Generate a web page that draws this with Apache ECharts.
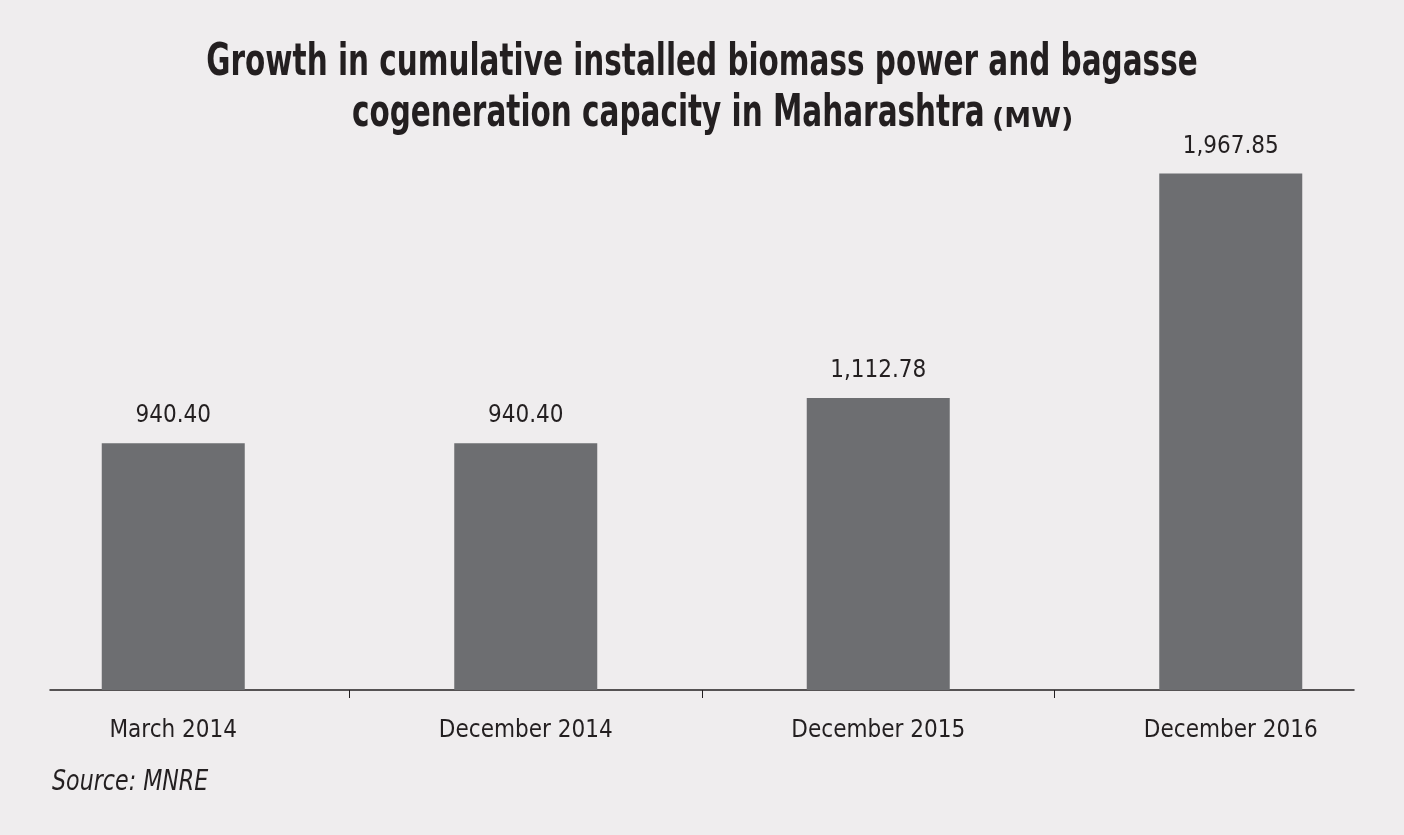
<!DOCTYPE html>
<html>
<head>
<meta charset="utf-8">
<script src="https://cdn.jsdelivr.net/npm/echarts@6/dist/echarts.min.js"></script>
<style>
html,body{margin:0;padding:0;background:#efedee;}
#c{width:1404px;height:835px;}
</style>
</head>
<body>
<div id="c"></div>
<script>
const categories = ['March 2014', 'December 2014', 'December 2015', 'December 2016'];
const capacityMW = [940.40, 940.40, 1112.78, 1967.85];
const titleLine1 = 'Growth in cumulative installed biomass power and bagasse';
const titleLine2 = 'cogeneration capacity in Maharashtra';
const titleUnit = '(MW)';
const sourceText = 'Source: MNRE';

const FONT = "'DejaVu Sans Condensed', 'Liberation Sans Narrow', sans-serif";
const INK = '#231f20';
const chart = echarts.init(document.getElementById('c'));
chart.setOption({
  backgroundColor: '#efedee',
  animation: false,
  graphic: [{
    type: 'text',
    x: 702, y: 86,
    scaleX: 0.745,
    style: {
      text: titleLine1,
      align: 'center', verticalAlign: 'bottom',
      fontFamily: FONT, fontWeight: 'bold', fontSize: 44, fill: INK
    }
  }, {
    type: 'text',
    x: 352, y: 137,
    scaleX: 0.745,
    style: {
      text: titleLine2,
      align: 'left', verticalAlign: 'bottom',
      fontFamily: FONT, fontWeight: 'bold', fontSize: 44, fill: INK
    }
  }, {
    type: 'text',
    x: 992, y: 133,
    style: {
      text: titleUnit,
      align: 'left', verticalAlign: 'bottom',
      fontFamily: "'DejaVu Sans', sans-serif", fontWeight: 'bold', fontSize: 27, fill: INK
    }
  }, {
    type: 'text',
    x: 52, y: 797,
    scaleX: 0.88,
    style: {
      text: sourceText,
      align: 'left', verticalAlign: 'bottom',
      fontFamily: FONT, fontStyle: 'italic', fontSize: 28, fill: INK
    }
  }],
  grid: [
    { left: -3, width: 1410, top: 165, bottom: 145, outerBoundsMode: 'none' },
    { left: 50, right: 50, top: 165, bottom: 145, outerBoundsMode: 'none' }
  ],
  xAxis: [{
    type: 'category',
    gridIndex: 0,
    data: categories,
    axisLine: { show: false },
    axisTick: { show: true, length: 8, lineStyle: { color: INK, width: 1 } },
    axisLabel: { margin: 29, fontFamily: FONT, fontSize: 24, color: INK }
  }, {
    type: 'value',
    gridIndex: 1,
    min: 0, max: 1,
    axisLine: { show: true, onZero: false, lineStyle: { color: INK, width: 1.5 } },
    axisTick: { show: false },
    axisLabel: { show: false },
    splitLine: { show: false }
  }],
  yAxis: [{
    type: 'value', gridIndex: 0, min: 0, max: 2000, show: false
  }, {
    type: 'value', gridIndex: 1, min: 0, max: 1, show: false
  }],
  series: [{
    type: 'bar',
    xAxisIndex: 0,
    yAxisIndex: 0,
    data: capacityMW,
    barWidth: 143,
    itemStyle: { color: '#6d6e71' },
    label: {
      show: true,
      position: 'top',
      distance: 15,
      fontFamily: FONT,
      fontSize: 24,
      color: INK,
      formatter: p => p.value.toLocaleString('en-US', { minimumFractionDigits: 2, maximumFractionDigits: 2 })
    }
  }]
});
</script>
</body>
</html>
